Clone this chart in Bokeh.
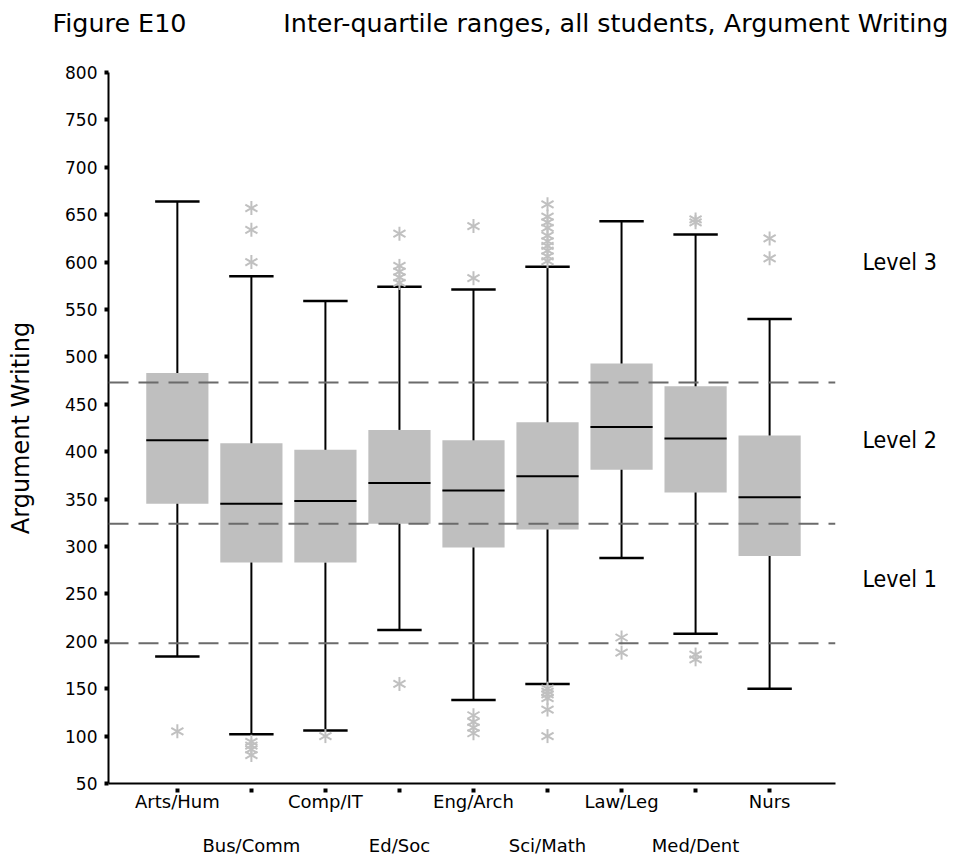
from bokeh.plotting import figure
from bokeh.models import Span, LinearAxis, FixedTicker, Range1d, Title
from bokeh.embed import file_html
from bokeh.resources import INLINE
import math

# ---- data ----
categories = ["Arts/Hum", "Bus/Comm", "Comp/IT", "Ed/Soc", "Eng/Arch",
              "Sci/Math", "Law/Leg", "Med/Dent", "Nurs"]
whisker_low = [184, 102, 106, 212, 138, 155, 288, 208, 150]
q1 = [345, 283, 283, 324, 299, 318, 381, 357, 290]
median = [412, 345, 348, 367, 359, 374, 426, 414, 352]
q3 = [483, 409, 402, 423, 412, 431, 493, 469, 417]
whisker_high = [664, 585, 559, 574, 571, 595, 643, 629, 540]

outlier_cat = (["Arts/Hum"]
               + ["Bus/Comm"] * 7
               + ["Comp/IT"]
               + ["Ed/Soc"] * 6
               + ["Eng/Arch"] * 6
               + ["Sci/Math"] * 16
               + ["Law/Leg"] * 2
               + ["Med/Dent"] * 4
               + ["Nurs"] * 2)
outlier_val = ([105]
               + [657, 634, 600, 94, 90, 86, 80]
               + [100]
               + [630, 596, 590, 584, 578, 155]
               + [638, 583, 122, 115, 109, 103]
               + [661, 648, 642, 636, 628, 622, 617, 612, 606, 601,
                  150, 147, 144, 140, 128, 100]
               + [204, 188]
               + [645, 642, 186, 181]
               + [625, 604])

level_bounds = [198, 324, 473]
level_names = ["Level 1", "Level 2", "Level 3"]
level_label_y = [266, 412, 600]
y_ticks = list(range(50, 801, 50))

title_left = "Figure E10"
title_right = "Inter-quartile ranges, all students, Argument Writing"
y_label = "Argument Writing"

# ---- derived positions ----
pos = list(range(len(categories)))
cat_index = {c: i for i, c in enumerate(categories)}
out_x = [cat_index[c] for c in outlier_cat]

BOX_W = 0.84
CAP_W = 0.60
BOX_COLOR = "#bfbfbf"
OUT_COLOR = "#c0c0c0"
FONT = "DejaVu Sans"

p = figure(width=955, height=858, title=None,
           x_range=Range1d(-0.93, 8.89), y_range=Range1d(50, 800),
           output_backend="svg", toolbar_location=None,
           min_border_left=108, min_border_right=120,
           min_border_top=72, min_border_bottom=74)
p.outline_line_color = None
p.xgrid.visible = False
p.ygrid.visible = False
p.background_fill_color = "white"
p.border_fill_color = "white"

# spacer between frame and title, then the title itself
spacer = Title(text="\u00a0", text_font=FONT, text_font_size="10px", standoff=22)
p.add_layout(spacer, "above")
main_title = Title(text=title_left + "\u00a0" * 12 + title_right,
                   align="left", offset=-56, standoff=0,
                   text_font=FONT, text_font_size="25.4px",
                   text_font_style="normal", text_color="black")
p.add_layout(main_title, "above")

# boxes
p.vbar(x=pos, width=BOX_W, bottom=q1, top=q3,
       fill_color=BOX_COLOR, line_color=None)
# whiskers
p.segment(x0=pos, y0=q3, x1=pos, y1=whisker_high, line_color="black", line_width=2)
p.segment(x0=pos, y0=q1, x1=pos, y1=whisker_low, line_color="black", line_width=2)
# caps
p.segment(x0=[x - CAP_W / 2 for x in pos], y0=whisker_high,
          x1=[x + CAP_W / 2 for x in pos], y1=whisker_high,
          line_color="black", line_width=2.5)
p.segment(x0=[x - CAP_W / 2 for x in pos], y0=whisker_low,
          x1=[x + CAP_W / 2 for x in pos], y1=whisker_low,
          line_color="black", line_width=2.5)
# medians
p.segment(x0=[x - BOX_W / 2 for x in pos], y0=median,
          x1=[x + BOX_W / 2 for x in pos], y1=median,
          line_color="black", line_width=2)

# outliers as six-armed asterisks
for ang in (math.pi / 2, math.pi / 6, -math.pi / 6):
    p.scatter(x=out_x, y=outlier_val, marker="dash", size=14, angle=ang,
              line_color=OUT_COLOR, line_width=2)

# level boundaries
for b in level_bounds:
    p.add_layout(Span(location=b, dimension="width", line_color="#6b6b6b",
                      line_width=2, line_dash="20 10"))

# y axis
ya = p.yaxis[0]
ya.ticker = FixedTicker(ticks=y_ticks)
ya.axis_line_width = 2
ya.axis_line_color = "black"
ya.major_tick_in = 0
ya.major_tick_out = 4
ya.major_tick_line_width = 4
ya.minor_tick_line_color = None
ya.major_label_standoff = 7
ya.major_label_text_font = FONT
ya.major_label_text_font_size = "17px"
ya.major_label_text_color = "black"
ya.axis_label = y_label
ya.axis_label_text_font = FONT
ya.axis_label_text_font_size = "24px"
ya.axis_label_text_font_style = "normal"
ya.axis_label_text_color = "black"
ya.axis_label_standoff = 27

# right axis carrying the level names
ra = LinearAxis(ticker=FixedTicker(ticks=level_label_y),
                major_label_overrides={yv: n for yv, n in zip(level_label_y, level_names)})
ra.axis_line_color = None
ra.major_tick_line_color = None
ra.minor_tick_line_color = None
ra.major_label_standoff = 21
ra.major_label_text_font = "DejaVu Sans Condensed"
ra.major_label_text_font_size = "23px"
ra.major_label_text_color = "black"
p.add_layout(ra, "right")

# x axis, first row of labels (even positions)
xa = p.xaxis[0]
xa.ticker = FixedTicker(ticks=pos)
xa.major_label_overrides = {i: (c if i % 2 == 0 else "") for i, c in enumerate(categories)}
xa.axis_line_width = 2
xa.axis_line_color = "black"
xa.major_tick_in = -5
xa.major_tick_out = 9
xa.major_tick_line_width = 4
xa.minor_tick_line_color = None
xa.major_label_standoff = -2
xa.major_label_text_font = FONT
xa.major_label_text_font_size = "18px"
xa.major_label_text_color = "black"

# x axis, second row of labels (odd positions)
xa2 = LinearAxis(ticker=FixedTicker(ticks=[i for i in pos if i % 2 == 1]),
                 major_label_overrides={i: c for i, c in enumerate(categories) if i % 2 == 1})
xa2.axis_line_color = None
xa2.major_tick_line_color = None
xa2.minor_tick_line_color = None
xa2.major_label_standoff = 14
xa2.major_label_text_font = FONT
xa2.major_label_text_font_size = "18px"
xa2.major_label_text_color = "black"
p.add_layout(xa2, "below")

open("out.html", "w").write(file_html(p, INLINE))
